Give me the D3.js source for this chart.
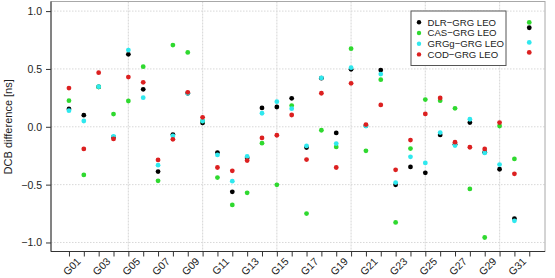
<!DOCTYPE html>
<html><head><meta charset="utf-8">
<script src="https://cdn.jsdelivr.net/npm/d3@7"></script>
<style>
body{margin:0;background:#fff;}
svg{display:block;font-family:"Liberation Sans",Arial,Helvetica,sans-serif;}
</style></head>
<body>
<svg id="c" width="555" height="278"></svg>
<script>
const categories = ["G01","G02","G03","G04","G05","G06","G07","G08","G09","G10","G11","G12","G13","G14","G15","G16",
  "G17","G18","G19","G20","G21","G22","G23","G24","G25","G26","G27","G28","G29","G30","G31","G32"];
const dlr  = [0.154,0.10,0.345,-0.09,0.626,0.324,-0.387,-0.067,0.29,0.033,-0.223,-0.562,-0.27,0.163,0.171,0.246,
  -0.18,0.42,-0.053,0.497,0.01,0.49,-0.502,-0.347,-0.398,-0.07,-0.15,0.036,-0.22,-0.367,-0.793,0.856];
const cas  = [0.226,-0.416,0.345,0.11,0.223,0.52,-0.467,0.706,0.643,0.05,-0.439,-0.675,-0.571,-0.142,-0.502,0.183,
  -0.75,-0.03,-0.174,0.675,-0.208,0.407,-0.827,-0.188,0.235,0.226,0.16,-0.537,-0.957,0.007,-0.278,0.902];
const grgg = [0.139,0.05,0.347,-0.082,0.663,0.252,-0.332,-0.079,0.29,0.05,-0.243,-0.47,-0.257,0.117,0.217,0.157,
  -0.165,0.422,-0.145,0.511,0.007,0.456,-0.482,-0.26,-0.312,-0.05,-0.162,0.065,-0.226,-0.327,-0.813,0.729];
const cod  = [0.335,-0.191,0.468,-0.105,0.43,0.384,-0.286,-0.108,0.298,0.082,-0.352,-0.381,-0.292,-0.096,-0.073,0.102,
  -0.283,0.29,-0.352,0.376,0.019,0.189,-0.372,-0.115,0.111,0.249,-0.133,-0.177,-0.191,0.036,-0.407,0.643];
const seriesNames = ["DLR\u2212GRG LEO","CAS\u2212GRG LEO","GRGg\u2212GRG LEO","COD\u2212GRG LEO"];
const seriesColors = ["#000000","#2fd92f","#2fe8ee","#dc2020"];
const yTicks = [-1.0,-0.5,0.0,0.5,1.0];
const xGrid = [5,10,15,20,25,30];

const series = [dlr,cas,grgg,cod];
const svg = d3.select("#c");
const L=51, R=545, T=1.5, B=251.5;
const x = d3.scaleLinear().domain([-0.21,33.06]).range([L,R]);
const y = d3.scaleLinear().domain([-1.078,1.083]).range([B,T]);

// grid
svg.append("g").selectAll("line").data(yTicks).join("line")
  .attr("x1",L).attr("x2",R).attr("y1",d=>y(d)).attr("y2",d=>y(d))
  .attr("stroke","#d8d8d8").attr("stroke-width",1).attr("stroke-dasharray","1.5,1.5");
svg.append("g").selectAll("line").data(xGrid).join("line")
  .attr("y1",T).attr("y2",B).attr("x1",d=>x(d)).attr("x2",d=>x(d))
  .attr("stroke","#dcdcdc").attr("stroke-width",1.2).attr("stroke-dasharray","2,1");

// frame
svg.append("rect").attr("x",L).attr("y",T).attr("width",R-L).attr("height",B-T)
  .attr("fill","none").attr("stroke","#a8a8a8").attr("stroke-width",1);

// y axis
const ya = svg.append("g").attr("transform",`translate(${L},0)`)
  .call(d3.axisLeft(y).tickValues(yTicks).tickSize(5).tickPadding(4)
    .tickFormat(d=>d3.format(".1f")(d).replace("-","\u2212")));
ya.select(".domain").attr("stroke","#333").attr("d",`M0,${T}V${B}`);
ya.selectAll(".tick line").attr("stroke","#333");
ya.selectAll("text").attr("font-size",10.5).attr("fill","#222").attr("font-family","Liberation Sans,Arial,sans-serif");

// x axis
const idx = d3.range(1,33);
const xa = svg.append("g").attr("transform",`translate(0,${B})`)
  .call(d3.axisBottom(x).tickValues(idx).tickSize(5).tickFormat(""));
xa.select(".domain").attr("stroke","#333").attr("d",`M${L},0H${R}`);
xa.selectAll(".tick line").attr("stroke","#333");
svg.append("g").selectAll("text").data(idx.filter(i=>i%2===1)).join("text")
  .attr("transform",i=>`translate(${x(i)+12.5},${B+10.5}) rotate(-45)`)
  .attr("text-anchor","end")
  .attr("font-size",10.5).attr("fill","#222")
  .text(i=>categories[i-1]);

// y label
svg.append("text").attr("transform",`translate(12,${y(0)}) rotate(-90)`)
  .attr("text-anchor","middle").attr("font-size",11).attr("fill","#222")
  .text("DCB difference [ns]");

// points
series.forEach((s,k)=>{
  svg.append("g").selectAll("circle").data(s).join("circle")
    .attr("cx",(d,i)=>x(i+1)).attr("cy",d=>y(d)).attr("r",2.4)
    .attr("fill",seriesColors[k]);
});

// legend
const lg = svg.append("g");
lg.append("rect").attr("x",411).attr("y",11).attr("width",95).attr("height",54.5)
  .attr("fill","#fff").attr("stroke","#555").attr("stroke-width",1);
seriesNames.forEach((n,k)=>{
  const yy = 22.3 + k*10.7;
  lg.append("circle").attr("cx",419).attr("cy",yy).attr("r",2.2).attr("fill",seriesColors[k]);
  lg.append("text").attr("x",427.5).attr("y",yy).attr("dy","0.36em")
    .attr("font-size",9.6).attr("fill","#222").text(n);
});
</script>
</body></html>
